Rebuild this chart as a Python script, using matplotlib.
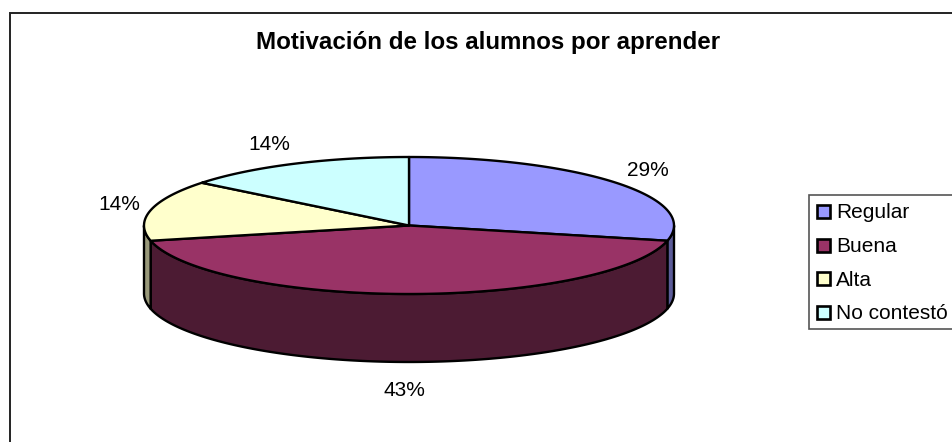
import numpy as np
import matplotlib
matplotlib.use("Agg")
import matplotlib.pyplot as plt
from matplotlib.patches import Rectangle

plt.rcParams["font.family"] = ["Liberation Sans", "DejaVu Sans"]

title = "Motivación de los alumnos por aprender"
categories = ["Regular", "Buena", "Alta", "No contestó"]
values = [2, 3, 1, 1]
top_colors = ["#9999ff", "#993366", "#ffffcc", "#ccffff"]
side_colors = ["#5c5c99", "#4c1b33", "#99997a", "#7a9999"]

W, H = 953, 442
cx, cy = 409, 225.5
rx, ry = 265, 68.5
depth = 68
lw = 1.7

fig = plt.figure(figsize=(W / 100, H / 100), dpi=100)
ax = fig.add_axes([0, 0, 1, 1])
ax.set_xlim(0, W)
ax.set_ylim(H, 0)
ax.axis("off")

# chart frame runs off the image on the right and bottom
ax.plot([10.5, 10.5, W], [H, 12.5, 12.5], color="#222222", lw=1.4, solid_joinstyle="miter")
ax.text(488, 43, title, ha="center", va="center", fontsize=17.4, fontweight="bold", color="black")


def rim(a0, a1, dy=0.0):
    t = np.radians(np.linspace(a0, a1, max(int(abs(a1 - a0)), 2) + 1))
    return cx + rx * np.cos(t), cy - ry * np.sin(t) + dy


total = sum(values)
angles = 90 - np.cumsum([0] + values) / total * 360

# side walls, only the part of each slice on the front half
for i in range(len(values)):
    lo, hi = max(angles[i + 1], -180), min(angles[i], 0)
    if hi <= lo:
        continue
    x, y = rim(lo, hi)
    xb, yb = rim(hi, lo, depth)
    ax.fill(np.r_[x, xb], np.r_[y, yb], facecolor=side_colors[i], edgecolor="black", lw=lw, zorder=2)

# top face
for i in range(len(values)):
    x, y = rim(angles[i + 1], angles[i])
    ax.fill(np.r_[cx, x], np.r_[cy, y], facecolor=top_colors[i], edgecolor="black", lw=lw,
            joinstyle="round", zorder=3)

label_pos = [(648, 171), (404, 391), (119, 205), (269, 145)]
for v, (lx, ly) in zip(values, label_pos):
    ax.text(lx, ly, f"{v / total * 100:.0f}%", ha="center", va="center", fontsize=15, color="black")

# legend, clipped by the image edge like the source
ax.add_patch(Rectangle((809, 195), 170, 134, facecolor="white", edgecolor="#555555", lw=1.2, zorder=4))
for i, name in enumerate(categories):
    y = 211.5 + i * 33.5
    ax.add_patch(Rectangle((817, y - 6.5), 13, 13, facecolor=top_colors[i], edgecolor="black", lw=1.9, zorder=5))
    ax.text(836, y + 1.5, name, ha="left", va="center", fontsize=15, color="black", zorder=5)

fig.savefig("out.png", dpi=100)
